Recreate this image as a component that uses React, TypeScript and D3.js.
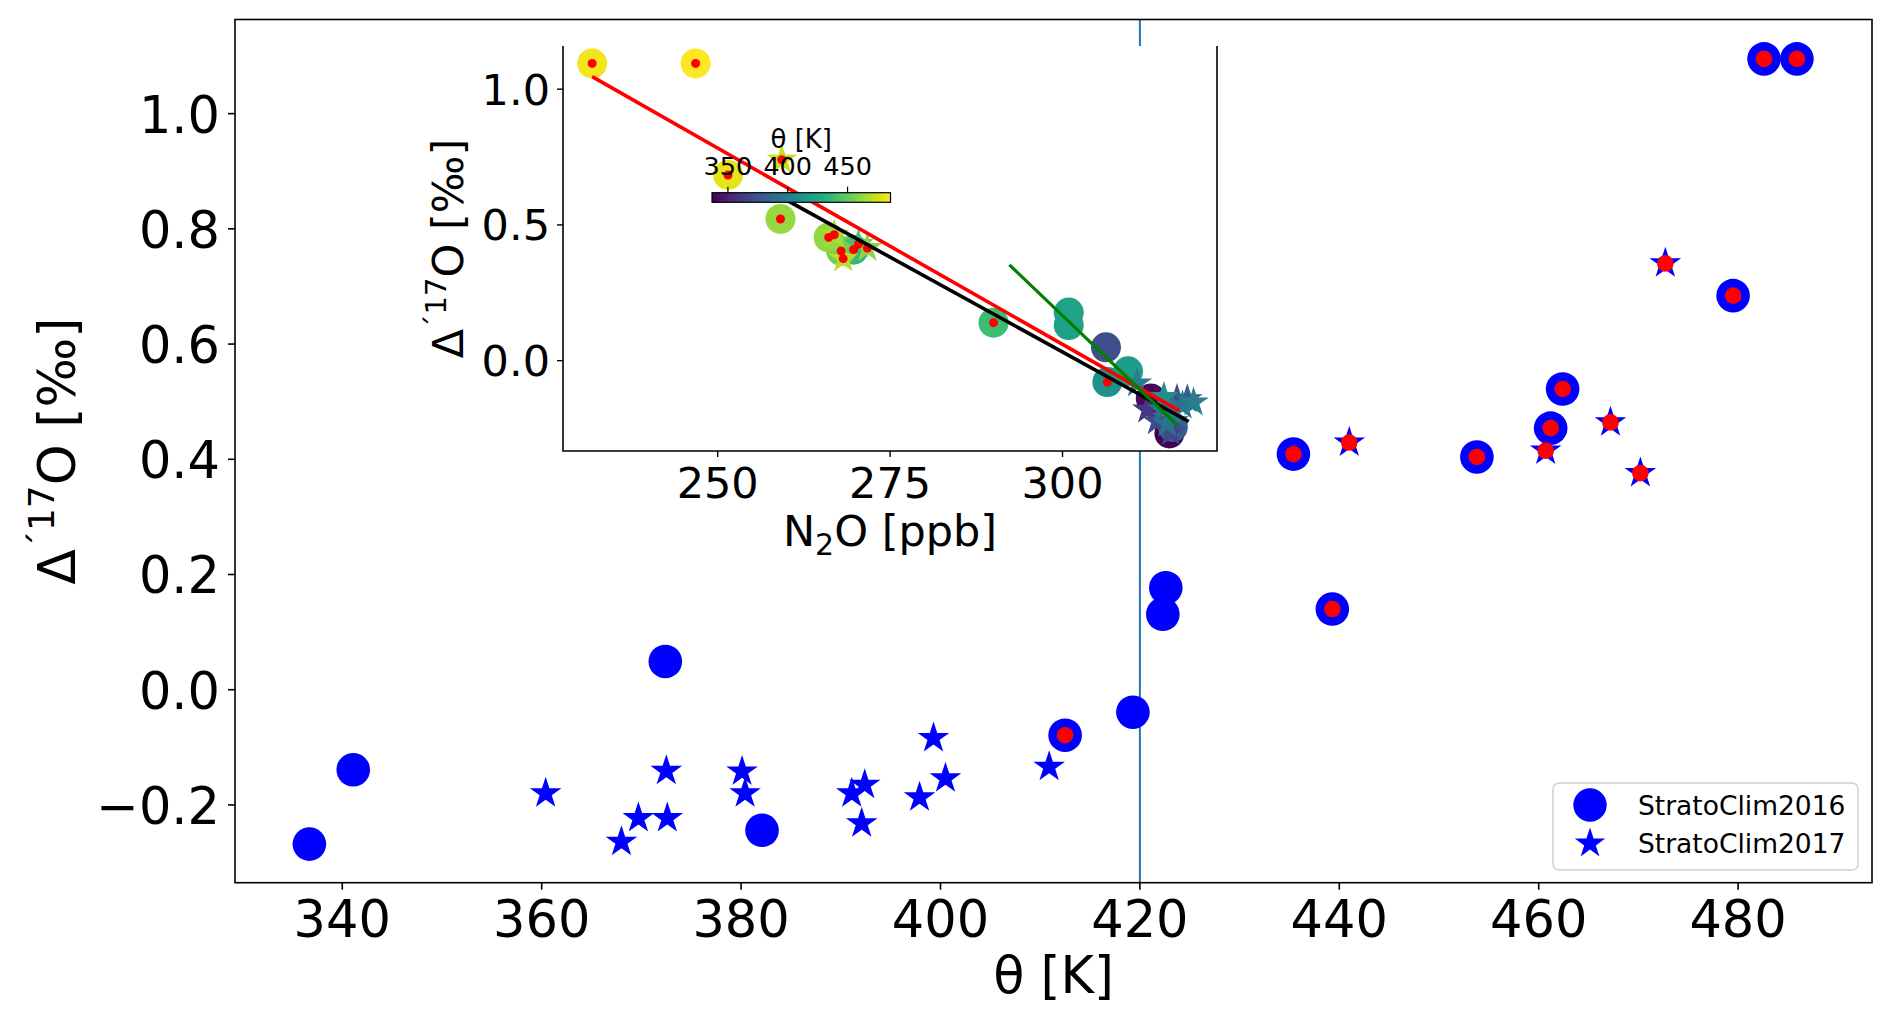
import React from 'react';
import * as d3 from 'd3';

// StratoClim2016 samples (circles): theta [K], Δ'17O [‰], N2O [ppb], marked with red dot
const theta2016 = [336.7, 341.1, 372.4, 382.1, 412.5, 419.3, 422.3, 422.6, 435.4, 439.3, 453.8, 461.2, 462.4, 479.5, 482.6, 485.9];
const d17O2016 = [-0.268, -0.139, 0.049, -0.244, -0.079, -0.039, 0.131, 0.177, 0.409, 0.140, 0.404, 0.454, 0.522, 0.684, 1.095, 1.095];
const n2o2016 = [315.5, 312.8, 306.3, 316.0, 306.5, 309.5, 300.9, 300.9, 269.7, 290.0, 267.9, 266.1, 259.1, 251.5, 231.8, 246.8];
const red2016 = [false, false, false, false, true, false, false, false, true, true, true, true, true, true, true, true];

// StratoClim2017 samples (stars)
const theta2017 = [360.4, 368.0, 369.7, 372.5, 372.6, 380.1, 380.4, 391.1, 392.1, 392.4, 397.9, 399.3, 400.5, 410.9, 441.0, 460.7, 467.2, 470.2, 472.7];
const d17O2017 = [-0.180, -0.264, -0.223, -0.141, -0.223, -0.142, -0.180, -0.180, -0.232, -0.165, -0.187, -0.084, -0.154, -0.134, 0.429, 0.415, 0.464, 0.376, 0.740];
const n2o2017 = [312.3, 315.7, 313.7, 316.6, 316.1, 318.1, 315.7, 314.5, 315.2, 317.4, 316.0, 310.8, 319.0, 314.7, 270.4, 271.7, 266.9, 268.2, 259.3];
const red2017 = [false, false, false, false, false, false, false, false, false, false, false, false, false, false, true, true, true, true, true];

// regression lines in the inset: [N2O, Δ'17O] end points
const fitBlack: [number, number][] = [[259.0, 0.605], [318.3, -0.224]];
const fitRed: [number, number][] = [[231.8, 1.046], [316.9, -0.184]];
const fitGreen: [number, number][] = [[292.3, 0.353], [316.6, -0.237]];

const thetaLine = 420;

// ticks
const xTicksMain = [340, 360, 380, 400, 420, 440, 460, 480];
const yTicksMain = [-0.2, 0.0, 0.2, 0.4, 0.6, 0.8, 1.0];
const xTicksInset = [250, 275, 300];
const yTicksInset = [0.0, 0.5, 1.0];
const cbTicks = [350, 400, 450];

const FONT = 'DejaVu Sans';

const App: React.FC = () => {
  const W = 1892;
  const H = 1020;

  // main axes
  const main = { left: 235, right: 1872, top: 19.5, bottom: 882.7 };
  const x = d3.scaleLinear().domain([329.24, 493.43]).range([main.left, main.right]);
  const y = d3.scaleLinear().domain([-0.335, 1.1634]).range([main.bottom, main.top]);

  // inset axes
  const ins = { left: 563, right: 1217, top: 46, bottom: 451 };
  const xi = d3.scaleLinear().domain([227.57, 322.4]).range([ins.left, ins.right]);
  const yi = d3.scaleLinear().domain([-0.3327, 1.159]).range([ins.bottom, ins.top]);

  // colorbar
  const thetaExtent = d3.extent([...theta2016, ...theta2017]) as [number, number];
  const cb = { left: 712, right: 890.5, top: 192.7, bottom: 202.3 };
  const xcb = d3.scaleLinear().domain(thetaExtent).range([cb.left, cb.right]);
  const color = d3.scaleSequential(d3.interpolateViridis).domain(thetaExtent);

  const fmt = d3.format('.1f');
  const starMain = d3.symbol(d3.symbolStar, (16.6 * 16.6) / 0.8908130915)();
  const starInset = d3.symbol(d3.symbolStar, (16 * 16) / 0.8908130915)();
  const lineGen = d3.line<[number, number]>().x(d => xi(d[0])).y(d => yi(d[1]));

  const gradStops = d3.range(0, 1.0001, 0.05);

  return (
    <svg width={W} height={H} style={{ position: 'absolute', left: 0, top: 0, display: 'block' }} fontFamily={FONT}>
      <defs>
        <linearGradient id="viridis" x1="0" x2="1" y1="0" y2="0">
          {gradStops.map(t => (
            <stop key={t} offset={`${t * 100}%`} stopColor={d3.interpolateViridis(t)} />
          ))}
        </linearGradient>
      </defs>
      <rect width={W} height={H} fill="#fff" />

      {/* threshold line */}
      <line x1={x(thetaLine)} x2={x(thetaLine)} y1={main.top} y2={main.bottom} stroke="#1f77b4" strokeWidth={2} />

      {/* main markers */}
      {theta2016.map((t, i) => (
        <circle key={`c${i}`} cx={x(t)} cy={y(d17O2016[i])} r={16.8} fill="#0000ff" />
      ))}
      {theta2017.map((t, i) => (
        <path key={`s${i}`} d={starMain} transform={`translate(${x(t)},${y(d17O2017[i])})`} fill="#0000ff" />
      ))}
      {theta2016.map((t, i) => red2016[i] && (
        <circle key={`rc${i}`} cx={x(t)} cy={y(d17O2016[i])} r={8.3} fill="#ff0000" />
      ))}
      {theta2017.map((t, i) => red2017[i] && (
        <circle key={`rs${i}`} cx={x(t)} cy={y(d17O2017[i])} r={8.3} fill="#ff0000" />
      ))}

      {/* main axes frame */}
      <rect x={main.left} y={main.top} width={main.right - main.left} height={main.bottom - main.top}
        fill="none" stroke="#000" strokeWidth={1.6} />
      {xTicksMain.map(t => (
        <g key={`xt${t}`}>
          <line x1={x(t)} x2={x(t)} y1={main.bottom} y2={main.bottom + 7} stroke="#000" strokeWidth={1.6} />
          <text x={x(t)} y={937} textAnchor="middle" fontSize={51}>{t}</text>
        </g>
      ))}
      {yTicksMain.map(t => (
        <g key={`yt${t}`}>
          <line x1={main.left - 7} x2={main.left} y1={y(t)} y2={y(t)} stroke="#000" strokeWidth={1.6} />
          <text x={220} y={y(t) + 19} textAnchor="end" fontSize={51}>{fmt(t)}</text>
        </g>
      ))}
      <text x={(main.left + main.right) / 2} y={993} textAnchor="middle" fontSize={51}>θ [K]</text>
      <text transform={`translate(75,${(main.top + main.bottom) / 2}) rotate(-90)`} textAnchor="middle" fontSize={52}>
        Δ<tspan dy={-21} fontSize={36}>´17</tspan><tspan dy={21}>O [‰]</tspan>
      </text>

      {/* legend */}
      <rect x={1553} y={783} width={305} height={87} rx={6} fill="#fff" fillOpacity={0.8} stroke="#d0d0d0" strokeWidth={1.5} />
      <circle cx={1590} cy={805} r={16.7} fill="#0000ff" />
      <path d={starInset} transform="translate(1590,843.5)" fill="#0000ff" />
      <text x={1638} y={815} fontSize={26.5}>StratoClim2016</text>
      <text x={1638} y={853} fontSize={26.5}>StratoClim2017</text>

      {/* inset */}
      <rect x={ins.left} y={ins.top} width={ins.right - ins.left} height={ins.bottom - ins.top} fill="#fff" />
      {n2o2016.map((n, i) => (
        <circle key={`ic${i}`} cx={xi(n)} cy={yi(d17O2016[i])} r={15} fill={color(theta2016[i])} />
      ))}
      {n2o2017.map((n, i) => (
        <path key={`is${i}`} d={starInset} transform={`translate(${xi(n)},${yi(d17O2017[i])})`} fill={color(theta2017[i])} />
      ))}
      {n2o2016.map((n, i) => red2016[i] && (
        <circle key={`irc${i}`} cx={xi(n)} cy={yi(d17O2016[i])} r={4.5} fill="#ff0000" />
      ))}
      {n2o2017.map((n, i) => red2017[i] && (
        <circle key={`irs${i}`} cx={xi(n)} cy={yi(d17O2017[i])} r={4.5} fill="#ff0000" />
      ))}
      <path d={lineGen(fitBlack) ?? ''} stroke="#000" strokeWidth={3.6} fill="none" />
      <path d={lineGen(fitRed) ?? ''} stroke="#ff0000" strokeWidth={3.6} fill="none" />
      <path d={lineGen(fitGreen) ?? ''} stroke="#008000" strokeWidth={3.2} fill="none" />

      <path d={`M${ins.left},${ins.top}V${ins.bottom}H${ins.right}V${ins.top}`} fill="none" stroke="#000" strokeWidth={1.6} />
      {xTicksInset.map(t => (
        <g key={`ixt${t}`}>
          <line x1={xi(t)} x2={xi(t)} y1={ins.bottom} y2={ins.bottom + 6} stroke="#000" strokeWidth={1.4} />
          <text x={xi(t)} y={498} textAnchor="middle" fontSize={43}>{t}</text>
        </g>
      ))}
      {yTicksInset.map(t => (
        <g key={`iyt${t}`}>
          <line x1={ins.left - 6} x2={ins.left} y1={yi(t)} y2={yi(t)} stroke="#000" strokeWidth={1.4} />
          <text x={550} y={yi(t) + 15.5} textAnchor="end" fontSize={43}>{fmt(t)}</text>
        </g>
      ))}
      <text x={(ins.left + ins.right) / 2} y={546} textAnchor="middle" fontSize={43}>
        N<tspan dy={9} fontSize={30}>2</tspan><tspan dy={-9}>O [ppb]</tspan>
      </text>
      <text transform={`translate(463,${(ins.top + ins.bottom) / 2}) rotate(-90)`} textAnchor="middle" fontSize={43}>
        Δ<tspan dy={-17} fontSize={29}>´17</tspan><tspan dy={17}>O [‰]</tspan>
      </text>

      {/* colorbar */}
      <rect x={cb.left} y={cb.top} width={cb.right - cb.left} height={cb.bottom - cb.top} fill="url(#viridis)" stroke="#000" strokeWidth={1.2} />
      {cbTicks.map(t => (
        <g key={`cb${t}`}>
          <line x1={xcb(t)} x2={xcb(t)} y1={cb.top} y2={cb.top - 6} stroke="#000" strokeWidth={1.2} />
          <text x={xcb(t)} y={175} textAnchor="middle" fontSize={25.5}>{t}</text>
        </g>
      ))}
      <text x={(cb.left + cb.right) / 2} y={148} textAnchor="middle" fontSize={26}>θ [K]</text>
    </svg>
  );
};

export default App;
